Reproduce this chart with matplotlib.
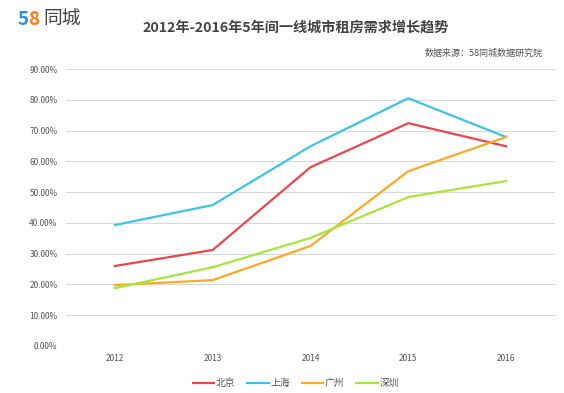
import matplotlib
matplotlib.use('Agg')
import matplotlib.pyplot as plt
from matplotlib.ticker import PercentFormatter

plt.rcParams['font.family'] = ['Noto Sans CJK SC', 'DejaVu Sans']

years = ['2012', '2013', '2014', '2015', '2016']
beijing = [26.0, 31.2, 58.1, 72.4, 64.9]
shanghai = [39.3, 45.8, 64.9, 80.5, 67.9]
guangzhou = [19.8, 21.4, 32.5, 56.8, 67.9]
shenzhen = [18.8, 25.6, 35.1, 48.4, 53.6]
names = ['北京', '上海', '广州', '深圳']
colors = ['#e8474c', '#3cc3e6', '#fbaa25', '#a5e63c']

fig = plt.figure(figsize=(5.64, 3.93), dpi=100)
ax = fig.add_axes([0.117, 0.1196, 0.867, 0.7048])

x = range(len(years))
for vals, name, c in zip([beijing, shanghai, guangzhou, shenzhen], names, colors):
    ax.plot(x, vals, color=c, lw=1.6, label=name)

ax.set_xlim(-0.5, len(years) - 0.5)
ax.set_ylim(0, 90)
ax.set_yticks(range(0, 91, 10))
ax.yaxis.set_major_formatter(PercentFormatter(decimals=2))
ax.set_xticks(list(x))
ax.set_xticklabels(years)
ax.tick_params(length=0, labelsize=6, colors='#555555', pad=6)
ax.grid(axis='y', color='#d9d9d9', lw=0.8)
ax.set_axisbelow(True)
for s in ax.spines.values():
    s.set_visible(False)

ax.legend(loc='upper center', bbox_to_anchor=(0.47, -0.085), ncol=4, frameon=False,
          fontsize=7, handlelength=2.2, handletextpad=0.2, columnspacing=1.2,
          labelcolor='#555555')

# logo
fig.text(0.031, 0.950, '5', color='#2f8fe0', fontsize=13.5, fontweight='bold', ha='left', va='center')
fig.text(0.049, 0.950, '8', color='#f47b20', fontsize=13.5, fontweight='bold', ha='left', va='center')
fig.text(0.077, 0.952, '同城', color='#444444', fontsize=13.5, ha='left', va='center')

fig.text(0.525, 0.929, '2012年-2016年5年间一线城市租房需求增长趋势', fontsize=10.2,
         fontweight='bold', color='#444444', ha='center', va='center')
fig.text(0.963, 0.865, '数据来源：58同城数据研究院', fontsize=6.5, color='#555555',
         ha='right', va='center')

fig.savefig('out.png', dpi=100)
